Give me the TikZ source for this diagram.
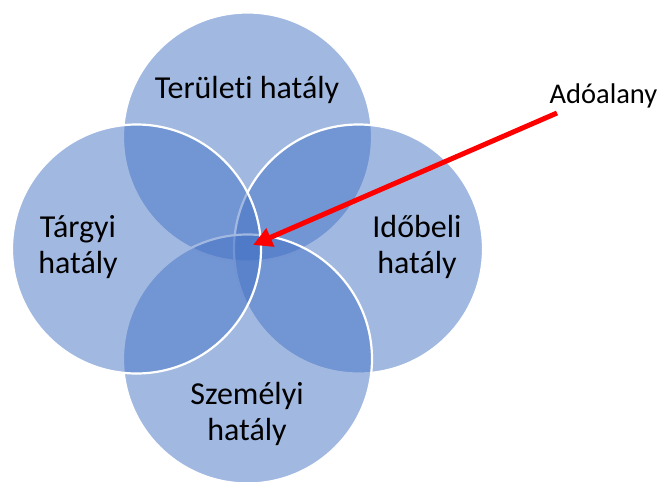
\documentclass[tikz,border=0pt]{standalone}
\usepackage{fontspec}
\setmainfont[Ligatures=NoCommon]{Carlito}
\usetikzlibrary{arrows.meta}
\definecolor{accent}{RGB}{68,114,196}
\definecolor{arrowred}{RGB}{255,0,0}
\tikzset{
  venn/.style={circle, minimum size=249pt, inner sep=0pt, fill=accent, fill opacity=0.5, draw=white, draw opacity=1, line width=2.2pt},
  lbl/.style={font=\fontsize{32}{36}\selectfont, align=center, anchor=base, inner sep=0pt, text=black},
  pointer/.style={draw=arrowred, line width=5pt, -{Triangle[length=19pt,width=19pt]}}
}
\begin{document}
\begin{tikzpicture}[x=1pt,y=-1pt]
\useasboundingbox (0,0) rectangle (662,482);
\node[venn] (top) at (247.5,137) {};
\node[venn] (right) at (358.5,249) {};
\node[venn] (bottom) at (247.5,359) {};
\node[venn] (left) at (136.5,249) {};
\node[lbl] (tterulet) at (247,98) {Területi hatály};
\node[lbl] (ttargy) at (78,273) {Tárgyi\\hatály};
\node[lbl] (tido) at (417,273) {Időbeli\\hatály};
\node[lbl] (tszem) at (247,440) {Személyi\\hatály};
\node[lbl, font=\fontsize{28.5}{34}\selectfont] (adoalany) at (603.5,103) {Adóalany};
\coordinate (astart) at (557,113);
\coordinate (aend) at (253,245);
\draw[pointer] (astart) -- (aend);
\end{tikzpicture}
\end{document}
